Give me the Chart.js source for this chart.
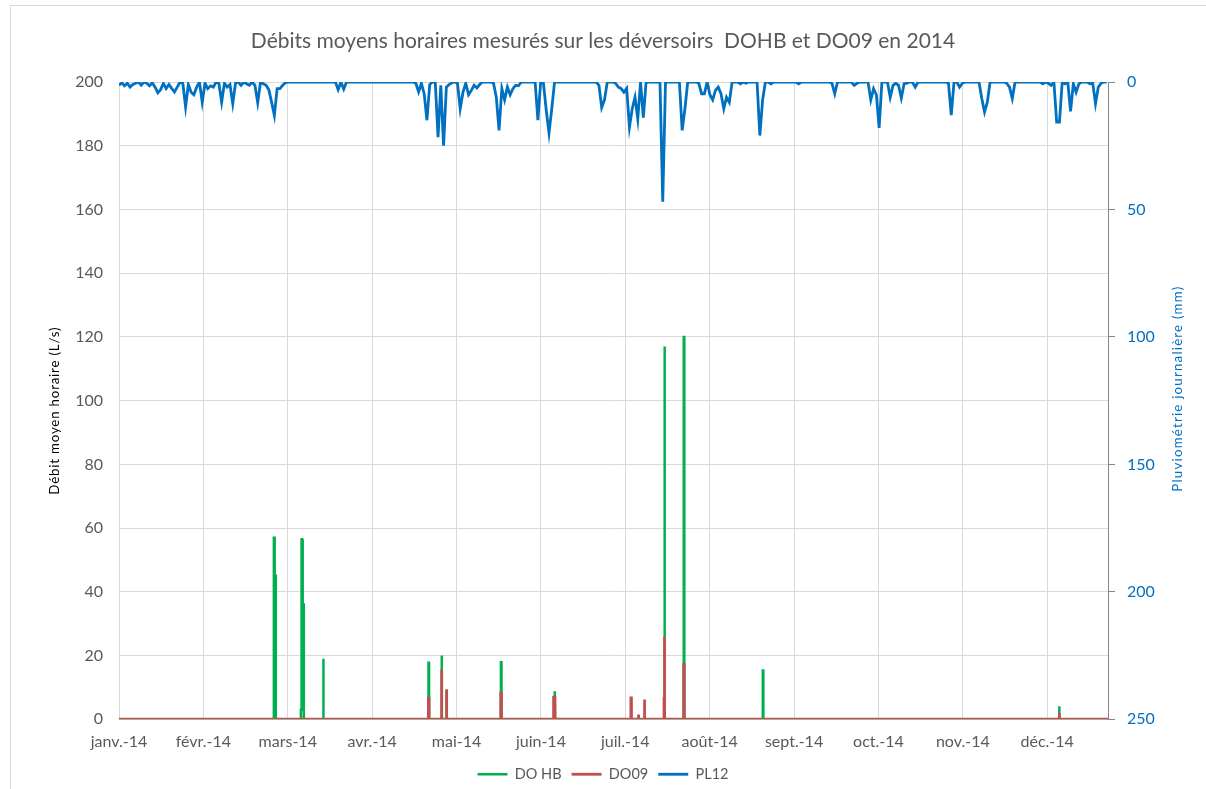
<!DOCTYPE html>
<html><head><meta charset="utf-8">
<script src="https://cdn.jsdelivr.net/npm/chart.js@4.4.1/dist/chart.umd.min.js"></script>
<style>
html,body{margin:0;padding:0;background:#fff;width:1206px;height:789px;overflow:hidden;}
#frame{position:absolute;left:10px;top:5px;width:1230px;height:820px;border:1px solid #d9d9d9;}
#wrap{position:absolute;left:0;top:0;width:1206px;height:789px;}
</style></head><body>
<div id="frame"></div>
<div id="wrap"><canvas id="c" width="1206" height="789"></canvas></div>
<script>
// ---- data ----
const chartTitle = 'Débits moyens horaires mesurés sur les déversoirs  DOHB et DO09 en 2014';
const leftTitle = 'Débit moyen horaire (L/s)';
const rightTitle = 'Pluviométrie journalière (mm)';
const monthLabels = ['janv.-14','févr.-14','mars-14','avr.-14','mai-14','juin-14','juil.-14','août-14','sept.-14','oct.-14','nov.-14','déc.-14'];
// tick positions in days (every 730 hours on the original hourly axis)
const monthTickDays = [0, 30.42, 60.83, 91.25, 121.67, 152.08, 182.5, 212.92, 243.33, 273.75, 304.17, 334.58];
const lastDay = 356.5;

// PL12 daily rainfall (mm), day 0 = 1 Jan
const rainMm = [
 1.3,0.3,1.5,0.5,2,1,0.5,0,1.2,0,
 0.5,1.5,0.3,2,4.2,3,0.5,2.6,1,2.5,
 3.9,2,0,0.5,9.8,1,4,5,2,0,
 7.9,0.5,2.6,1.5,2,0,0.5,7.9,0.5,2,
 1,8.5,0.5,0,1.3,0,0.7,1.3,0,1.3,
 8.1,0,0.7,1.3,3,7.9,13.1,2.6,2.6,1.3,
 0.3,0,0,0,0,0,0,0,0,0,
 0,0,0,0,0,0,0,0,0,3,
 0,2.8,0,0,0,0,0,0,0,0,
 0,0,0,0,0,0,0,0,0,0,
 0,0,0,0,0,0,0,0.5,3.9,0.5,
 4.6,15,1,0,0,21.6,1.3,25,2,1,
 0.3,0,0.5,10.5,4,0.5,5,3.3,1.3,2.3,
 1,0,0,0,0,0.5,6,19,2.6,7,
 2,5,2.6,1.3,1.5,0,0,0,0,0,
 0,15,0,0.5,11,20,10.5,0,0,0,
 0,0,0,0,0,0,0,0,0,0,
 0,0,0,1.3,10,7,0,0,0,0.5,
 2,2.6,4,2.5,17.7,10.5,6,14.5,0,14,
 0,0,0,0,0,0,47,0,0,0,
 0,0,0,19,10.5,0,0,0,0,0.5,
 4.6,4.6,0,5,7,3.3,2,4.6,10.5,6,
 8,0,0,0,0.7,0,0.5,0,0,0,
 0,21,7,0,0,0.7,0,0,0,0,
 0,0,0,0,0,0.7,0,0,0,0,
 0,0,0,0,0,0,0,0.5,4.6,0,
 0,0,0,0,0,1.3,0.5,0,0,0,
 0,7,2.6,5,18,0,0,0,6,1.3,
 0.5,1.3,6.3,0.7,0.5,0,0,2,0,0,
 0,0,0,0,0,0,0,0,0,0.5,
 13,0,0,2,0.5,0,0,0,0,0,
 0,6.5,11.8,7.9,0,0,0,0,0,0,
 0.5,2,6.5,0,0,0,0,0,0,0,
 0,0,0,0.7,0,0.5,1.3,0,15.7,15.7,
 0,0.7,0,11.5,0.7,4,0.7,0,0,0,
 0.7,0.5,8.5,2,0.5,0,0
];

// DO HB hourly flow events (day, L/s)
const doHbDays = [0,
 55.8,55.82,56.1,56.12,56.5,56.52,
 65.55,65.57,65.8,65.82,66.0,66.02,66.3,66.32,66.6,66.62,
 73.55,73.57,73.75,73.77,
 111.55,111.57,111.75,111.77,
 116.2,116.22,116.4,116.42,
 117.95,117.97,118.15,118.17,
 137.65,137.67,137.85,137.87,
 156.95,156.97,157.15,157.17,
 196.55,196.57,196.75,196.77,
 203.55,203.57,203.75,203.77,
 232.05,232.07,232.25,232.27,
 338.85,338.87,339.0,339.02,
 356.5];
const doHbFlow = [0,
 0,57,57,45,45,0,
 0,3,3,56.5,56.5,42,42,36,36,0,
 0,19,19,0,
 0,17.7,17.7,0,
 0,20,20,0,
 0,9.3,9.3,0,
 0,17.9,17.9,0,
 0,8.8,8.8,0,
 0,117,117,0,
 0,120,120,0,
 0,15.3,15.3,0,
 0,4.1,4.1,0,
 0];

// DO09 hourly flow events (day, L/s)
const do09Days = [0,
 111.5,111.52,111.75,111.77,
 116.15,116.17,116.4,116.42,
 117.9,117.92,118.2,118.22,
 137.6,137.62,137.85,137.87,
 156.5,156.52,156.8,157.15,157.17,
 184.5,184.52,184.7,184.72,
 187.1,187.12,187.35,187.37,
 189.3,189.32,189.5,189.52,
 196.45,196.47,196.55,196.57,196.75,196.77,
 203.55,203.57,203.75,203.77,
 338.85,338.87,339.0,339.02,
 356.5];
const do09Flow = [0,
 0,6.6,6.6,0,
 0,15.6,15.6,0,
 0,9.3,9.3,0,
 0,8.3,8.3,0,
 0,6.5,6.9,6.9,0,
 0,6.7,6.7,0,
 0,1.5,1.5,0,
 0,6.2,6.2,0,
 0,7,7,26,26,0,
 0,17.2,17.2,0,
 0,2,2,0,
 0];

// ---- chart ----
const FONT = "Lato, 'Open Sans', sans-serif";
Chart.defaults.font.family = FONT;

const axisTitlePlugin = {
  id: 'axisTitles',
  afterDraw(chart) {
    const ctx = chart.ctx, a = chart.chartArea;
    const midY = (a.top + a.bottom) / 2;
    ctx.save();
    ctx.font = '13.3px ' + FONT;
    ctx.textAlign = 'center';
    ctx.textBaseline = 'middle';
    try { ctx.letterSpacing = '0.8px'; } catch (e) {}
    ctx.fillStyle = '#000000';
    ctx.translate(a.left - 64, midY + 10);
    ctx.rotate(-Math.PI / 2);
    ctx.fillText(leftTitle, 0, 0);
    ctx.restore();
    ctx.save();
    ctx.font = '13.3px ' + FONT;
    ctx.textAlign = 'center';
    ctx.textBaseline = 'middle';
    try { ctx.letterSpacing = '1.2px'; } catch (e) {}
    ctx.fillStyle = '#0070C0';
    ctx.translate(a.right + 70, midY - 12);
    ctx.rotate(-Math.PI / 2);
    ctx.fillText(rightTitle, 0, 0);
    ctx.restore();
  }
};

new Chart(document.getElementById('c'), {
  type: 'line',
  data: {
    datasets: [
      { label: 'DO HB', data: doHbDays.map((d, i) => ({x: d, y: doHbFlow[i]})),
        borderColor: '#00B050', backgroundColor: '#00B050', borderWidth: 2.5,
        pointRadius: 0, tension: 0, fill: false, yAxisID: 'y', order: 2 },
      { label: 'DO09', data: do09Days.map((d, i) => ({x: d, y: do09Flow[i]})),
        borderColor: '#C0504D', backgroundColor: '#C0504D', borderWidth: 2.8,
        pointRadius: 0, tension: 0, fill: false, yAxisID: 'y', order: 1 },
      { label: 'PL12', data: rainMm.map((v, i) => ({x: i, y: v})),
        borderColor: '#0070C0', backgroundColor: '#0070C0', borderWidth: 2.8,
        pointRadius: 0, tension: 0, fill: false, yAxisID: 'y2', order: 0 }
    ]
  },
  options: {
    responsive: false, animation: false, events: [],
    layout: { padding: { left: 0, right: 0, top: 0, bottom: 0 } },
    scales: {
      x: {
        type: 'linear', min: 0, max: lastDay,
        afterBuildTicks: s => { s.ticks = monthTickDays.map(v => ({ value: v })); },
        afterFit: s => { s.height = 37.75; },
        ticks: {
          autoSkip: false, maxRotation: 0, padding: 13,
          color: '#595959', font: { size: 16 },
          callback: (v, i) => monthLabels[i]
        },
        grid: { color: '#D9D9D9', lineWidth: 1, drawTicks: false },
        border: { color: '#D9D9D9' }
      },
      y: {
        position: 'left', min: 0, max: 200,
        afterFit: s => { s.width = 119; },
        ticks: { stepSize: 20, padding: 16, color: '#595959', font: { size: 16 } },
        grid: { color: '#D9D9D9', lineWidth: 1, drawTicks: false },
        border: { display: false }
      },
      y2: {
        position: 'right', reverse: true, min: 0, max: 250,
        afterFit: s => { s.width = 98; },
        ticks: { stepSize: 50, padding: 12, color: '#0070C0', font: { size: 16 } },
        grid: { drawOnChartArea: false, color: '#868686', tickLength: 7, lineWidth: 1 },
        border: { display: true, color: '#868686', width: 1 }
      }
    },
    plugins: {
      title: {
        display: true, text: chartTitle, color: '#595959',
        font: { size: 21, weight: 'normal' },
        padding: { top: 29, bottom: 27.8 }
      },
      legend: {
        position: 'bottom', maxHeight: 32,
        labels: {
          usePointStyle: true, pointStyle: 'line', pointStyleWidth: 30,
          color: '#595959', font: { size: 14.5 }, padding: 10,
          sort: (a, b) => a.datasetIndex - b.datasetIndex
        }
      },
      tooltip: { enabled: false }
    }
  },
  plugins: [axisTitlePlugin]
});
</script>
</body></html>
